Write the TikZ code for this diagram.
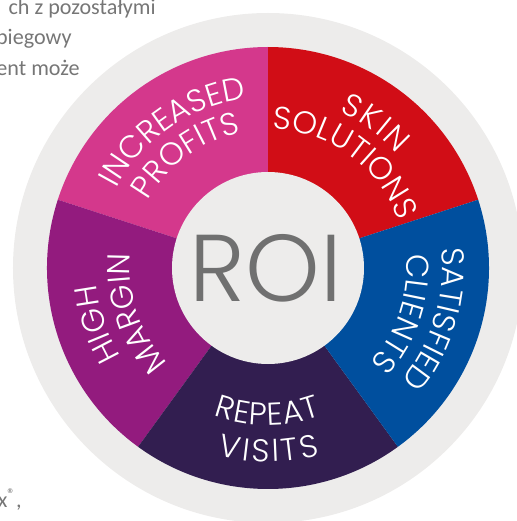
\documentclass[tikz,border=0pt]{standalone}
\usepackage{fontspec}
\usepackage{xcolor}
\usepackage{tikz}
\usetikzlibrary{decorations.text}

\newfontfamily\poppinslight{Poppins}[UprightFont=* Light]
\newfontfamily\bodyfont{Carlito}
\newcommand\segfont{\poppinslight\fontsize{18}{21}\selectfont}

\definecolor{ringgray}{RGB}{237,236,235}
\definecolor{pinkseg}{RGB}{212,56,140}
\definecolor{redseg}{RGB}{209,13,22}
\definecolor{blueseg}{RGB}{0,79,158}
\definecolor{darkseg}{RGB}{50,30,80}
\definecolor{purpleseg}{RGB}{147,27,126}
\definecolor{roigray}{RGB}{112,112,112}
\definecolor{textgray}{RGB}{118,118,118}

\begin{document}
\begin{tikzpicture}[x=0.02cm, y=0.02cm,
    arclabel/.style={decorate, decoration={text along path, text align={fit to path}, text color=white, text={|\segfont|#1}}},
    arclabelmid/.style={decorate, decoration={text along path, text align=center, text color=white, text={|\segfont|#1}}},
    bodytext/.style={anchor=base east, inner sep=0pt, text=textgray, font=\bodyfont\fontsize{12.6}{15}\selectfont}]
    \clip (-268,-253) rectangle (249,268);

    % Draw the gray ring
    \fill[ringgray] (0,0) circle (255);

    % Draw the five segments
    \fill[redseg] (0,0) -- (18:221) arc[start angle=18, end angle=90, radius=221] -- cycle;
    \fill[pinkseg] (0,0) -- (90:221) arc[start angle=90, end angle=162, radius=221] -- cycle;
    \fill[purpleseg] (0,0) -- (162:221) arc[start angle=162, end angle=234, radius=221] -- cycle;
    \fill[darkseg] (0,0) -- (234:221) arc[start angle=234, end angle=306, radius=221] -- cycle;
    \fill[blueseg] (0,0) -- (306:221) arc[start angle=306, end angle=378, radius=221] -- cycle;

    % Draw the center disc
    \fill[ringgray] (0,0) circle (96);
    \node[anchor=base, inner sep=0pt, text=roigray, font=\poppinslight\fontsize{54}{64}\selectfont] (roi) at (-2,-33) {ROI};

    % Labels along the segments
    \path[arclabel=INCREASED] (152.3:171) arc[start angle=152.3, end angle=97.4, radius=171];
    \path[arclabelmid=PROFITS] (156:138) arc[start angle=156, end angle=96, radius=138];
    \path[arclabel=SKIN] (65.5:172) arc[start angle=65.5, end angle=41.5, radius=172];
    \path[arclabelmid=SOLUTIONS] (94:139) arc[start angle=94, end angle=14, radius=139];
    \path[arclabelmid=SATISFIED] (18:174) arc[start angle=18, end angle=-52, radius=174];
    \path[arclabelmid=CLIENTS] (20:139) arc[start angle=20, end angle=-57, radius=139];
    \path[arclabel=HIGH] (211:172) arc[start angle=211, end angle=185.5, radius=172];
    \path[arclabel=MARGIN] (223.7:138) arc[start angle=223.7, end angle=175.5, radius=138];
    \path[arclabel=REPEAT] (249.8:157) arc[start angle=249.8, end angle=289.9, radius=157];
    \path[arclabel=VISITS] (255:194) arc[start angle=255, end angle=285.5, radius=194];

    % Text of the page behind
    \node[bodytext] (line1) at (-112,253) {ch z pozostałymi};
    \node[bodytext] (line2) at (-196,223) {piegowy};
    \node[bodytext] (line3) at (-188,192) {ent może};
    \node[bodytext] (line4) at (-246,-239) {x\textsuperscript{®},};
\end{tikzpicture}
\end{document}
